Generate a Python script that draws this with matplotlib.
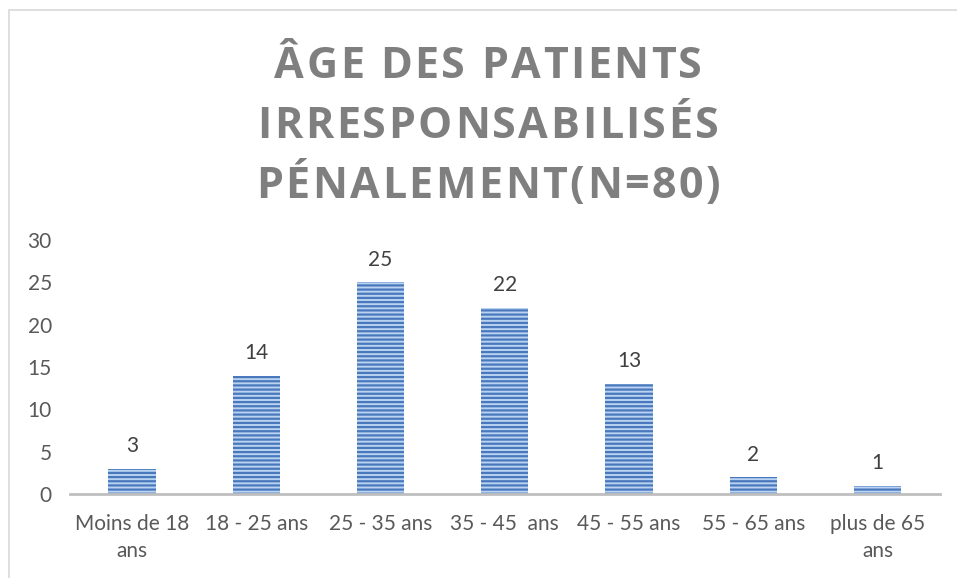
import numpy as np
import matplotlib.pyplot as plt
from matplotlib.patches import Rectangle
from matplotlib.font_manager import FontProperties

categories = ["Moins de 18\nans", "18 - 25 ans", "25 - 35 ans", "35 - 45  ans",
              "45 - 55 ans", "55 - 65 ans", "plus de 65\nans"]
values = [3, 14, 25, 22, 13, 2, 1]
yticks = [0, 5, 10, 15, 20, 25, 30]
title_lines = ["ÂGE DES PATIENTS", "IRRESPONSABILISÉS", "PÉNALEMENT(N=80)"]

plt.rcParams["font.family"] = ["Lato", "DejaVu Sans"]
plt.rcParams["hatch.linewidth"] = 1.6

fig = plt.figure(figsize=(9.57, 5.78), dpi=100)
ax = fig.add_axes([0.073, 0.145, 0.909, 0.44])

x = np.arange(len(categories))
ax.bar(x, values, width=0.38, color="#b9d3f0", edgecolor="#4a78bd",
       hatch="----", linewidth=0)

for xi, v in zip(x, values):
    ax.annotate(str(v), (xi, v), xytext=(0, 9), textcoords="offset points",
                ha="center", va="bottom", fontsize=15, color="#404040")

ax.set_xlim(-0.5, len(categories) - 0.5)
ax.set_ylim(0, 30)
ax.set_yticks(yticks)
ax.set_xticks(x, categories)
ax.tick_params(axis="both", length=0, labelsize=15, labelcolor="#595959")
ax.tick_params(axis="x", pad=14)
ax.tick_params(axis="y", pad=13)
for lbl in ax.get_xticklabels():
    lbl.set_linespacing(1.45)

for s in ["top", "right", "left"]:
    ax.spines[s].set_visible(False)
ax.spines["bottom"].set_color("#bfbfbf")
ax.spines["bottom"].set_linewidth(2)

# titre sur trois lignes, avec espacement des lettres
title_font = FontProperties(family=["Open Sans", "DejaVu Sans"], weight="bold", size=31)
spacing = 2.5  # px entre les lettres
renderer = fig.canvas.get_renderer()


def advance(txt):
    return renderer.get_text_width_height_descent(txt, title_font, ismath=False)[0]


for i, line in enumerate(title_lines):
    # largeur d'avance de chaque lettre : "H" + lettre + "H" moins "HH"
    widths = [advance("H" + ch + "H") - advance("HH") for ch in line]
    total = sum(widths) + spacing * (len(line) - 1)
    xpos = 488 - total / 2
    ypos = 1 - (62 + 59.5 * i) / 578
    for ch, w in zip(line, widths):
        fig.text(xpos / 957, ypos, ch, ha="left", va="center_baseline",
                 fontproperties=title_font, color="#7f7f7f")
        xpos += w + spacing

# cadre du graphique
fig.patches.append(Rectangle((9 / 957, -0.05), 1.1, 1 - 10 / 578 + 0.05,
                             transform=fig.transFigure, fill=False,
                             edgecolor="#d9d9d9", linewidth=1.2))

fig.savefig("out.png", dpi=100)
